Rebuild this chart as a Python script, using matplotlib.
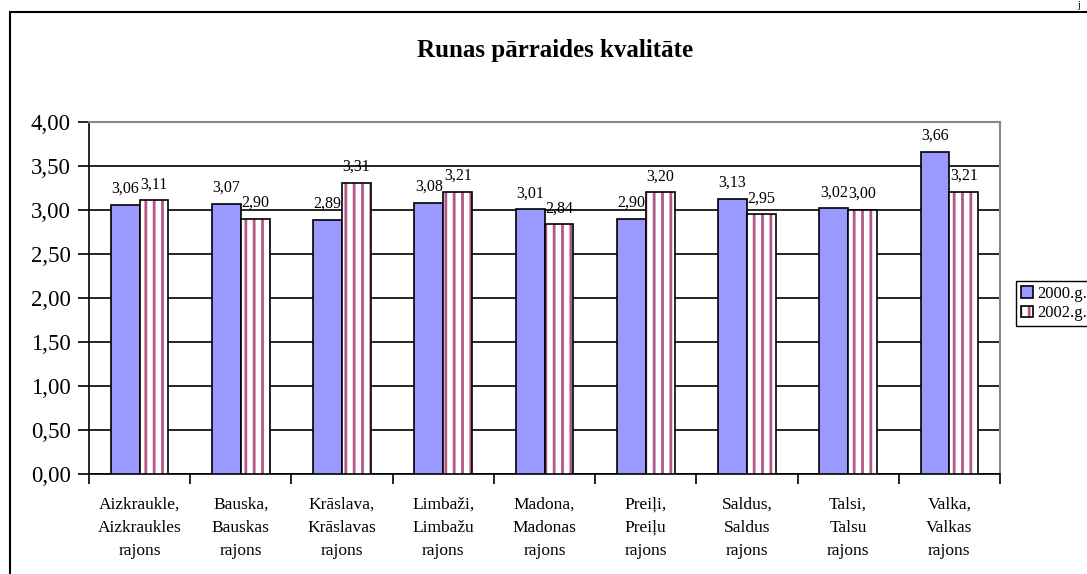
import matplotlib.pyplot as plt
from matplotlib.patches import Rectangle, Patch
from matplotlib.ticker import FuncFormatter

plt.rcParams['font.family'] = ['Liberation Serif', 'DejaVu Serif']
plt.rcParams['hatch.linewidth'] = 2.0
plt.rcParams['hatch.color'] = '#b4578a'

categories = ['Aizkraukle,\nAizkraukles\nrajons', 'Bauska,\nBauskas\nrajons',
              'Krāslava,\nKrāslavas\nrajons', 'Limbaži,\nLimbažu\nrajons',
              'Madona,\nMadonas\nrajons', 'Preiļi,\nPreiļu\nrajons',
              'Saldus,\nSaldus\nrajons', 'Talsi,\nTalsu\nrajons',
              'Valka,\nValkas\nrajons']
y2000 = [3.06, 3.07, 2.89, 3.08, 3.01, 2.90, 3.13, 3.02, 3.66]
y2002 = [3.11, 2.90, 3.31, 3.21, 2.84, 3.20, 2.95, 3.00, 3.21]
series_names = ['2000.g.', '2002.g.']

fig = plt.figure(figsize=(10.87, 5.74), dpi=100)
ax = fig.add_axes([89/1087, 100/574, 911/1087, 352/574])

x = list(range(len(categories)))
w = 0.285
ax.bar([i - w/2 for i in x], y2000, width=w, color='#9999ff', edgecolor='black', linewidth=1.2, zorder=3)
# striped bars: hatch first, black outline on top
ax.bar([i + w/2 for i in x], y2002, width=w, color='white', edgecolor='#b4578a', hatch='||',
       linewidth=0, zorder=3)
ax.bar([i + w/2 for i in x], y2002, width=w, fill=False, edgecolor='black', linewidth=1.2, zorder=4)

for i in x:
    ax.text(i - w/2, y2000[i] + 0.09, f'{y2000[i]:.2f}'.replace('.', ','), ha='center', va='bottom', fontsize=11.5)
    ax.text(i + w/2, y2002[i] + 0.09, f'{y2002[i]:.2f}'.replace('.', ','), ha='center', va='bottom', fontsize=11.5)

ax.set_xlim(-0.5, len(categories) - 0.5)
ax.set_ylim(0, 4)
ax.set_yticks([k * 0.5 for k in range(9)])
ax.yaxis.set_major_formatter(FuncFormatter(lambda v, p: f'{v:.2f}'.replace('.', ',')))
ax.tick_params(axis='y', labelsize=16.5, length=8, width=1.2, direction='out', pad=5)
ax.set_xticks([i - 0.5 for i in range(len(categories) + 1)])
ax.set_xticklabels([])
ax.tick_params(axis='x', which='major', length=7, width=1.2, direction='out')
ax.set_xticks(x, minor=True)
ax.set_xticklabels(categories, minor=True, fontsize=12.5, linespacing=1.62)
ax.tick_params(axis='x', which='minor', length=0, pad=16)

ax.grid(axis='y', color='black', linewidth=1.2, zorder=0)
ax.set_axisbelow(True)
ax.spines['top'].set_color('#888888')
ax.spines['right'].set_color('#888888')
ax.spines['top'].set_linewidth(1.5)
ax.spines['right'].set_linewidth(1.5)
ax.spines['left'].set_linewidth(1.2)
ax.spines['bottom'].set_linewidth(1.2)

fig.text(555/1087, 1 - 50/574, 'Runas pārraides kvalitāte', ha='center', va='center',
         fontsize=18, fontweight='bold')

# outer chart frame (cut at the right and bottom)
fig.patches.append(Rectangle((10/1087, -0.05), 1.2, 1 - 12/574 + 0.05, transform=fig.transFigure,
                             fill=False, edgecolor='black', linewidth=1.5))
fig.text(1079/1087, 1 - 1/574, 'j', ha='center', va='top', fontsize=8)

h2000 = Patch(facecolor='#9999ff', edgecolor='black', linewidth=1.2)
h2002 = (Patch(facecolor='white', edgecolor='#b4578a', hatch='||', linewidth=0),
         Patch(fill=False, edgecolor='black', linewidth=1.2))
leg = fig.legend([h2000, h2002], series_names, loc='upper left', bbox_to_anchor=(1016/1087, 1 - 281/574),
                 fontsize=12, frameon=True, fancybox=False, edgecolor='black', framealpha=1,
                 handlelength=0.7, handleheight=0.7, handletextpad=0.3, borderpad=0.3,
                 labelspacing=0.2, borderaxespad=0)
leg.get_frame().set_linewidth(1.0)

fig.savefig('out.png', dpi=100)
